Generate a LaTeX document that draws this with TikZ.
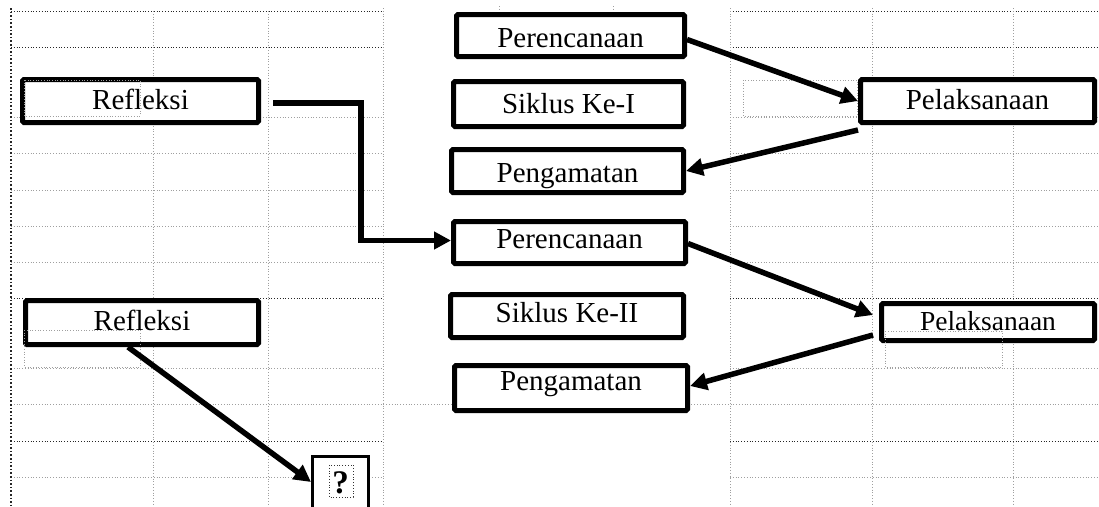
\documentclass[tikz,border=0pt]{standalone}
\usepackage{fontspec}
\setmainfont{Liberation Serif}
\usetikzlibrary{arrows.meta}
\begin{document}
\begin{tikzpicture}[x=1pt,y=-1pt,
  gridl/.style={gray!75, dotted, line width=0.8pt},
  gridd/.style={black!85, dotted, line width=0.8pt},
  tbox/.style={gray!75, dotted, line width=0.7pt},
  box/.style={draw, line width=5pt, rounded corners=1.5pt, inner sep=0pt, fill=white,
     font=\fontsize{29}{31}\selectfont, text depth=0pt},
  qbox/.style={draw, line width=3pt, inner sep=0pt, fill=white,
     font=\bfseries\fontsize{33}{35}\selectfont, text depth=0pt, text height=16pt},
  arr/.style={line width=5.5pt, line join=miter, -{Triangle[length=17pt,width=17pt]}}]
\clip (0,0) rectangle (1099,506);
\fill[white] (0,0) rectangle (1099,506);
% ---- left grid ----
\foreach \y in {117,153,190,226,262,368,477} \draw[gridl] (11,\y) -- (383,\y);
\foreach \y in {47,298,441} \draw[gridd] (11,\y) -- (383,\y);
\draw[gridd] (11,11) -- (383,11);
\draw[gridl] (11,404) -- (1099,404);
\foreach \x in {153,268} \draw[gridl] (\x,11) -- (\x,506);
\draw[gridl] (383,8) -- (383,506);
\draw[black!85, dotted, line width=1.6pt] (11,8) -- (11,506);
% ---- right grid ----
\foreach \y in {117,153,190,226,262,368,477} \draw[gridl] (730,\y) -- (1099,\y);
\foreach \y in {11,47,298,441} \draw[gridd] (730,\y) -- (1099,\y);
\foreach \x in {730,872,1013} \draw[gridl] (\x,8) -- (\x,506);
\foreach \x in {499,613} \draw[gridl] (\x,6) -- (\x,11);
% ---- boxes ----
\node[box, minimum width=236pt, minimum height=43pt, text height=16pt] (r1) at (140.5,101) {Refleksi};
\node[box, minimum width=228pt, minimum height=42pt, text height=23pt] (p1) at (570.5,35.5) {Perencanaan};
\node[box, minimum width=230pt, minimum height=45pt, text height=18pt] (s1) at (568.5,104) {Siklus Ke-I};
\node[box, minimum width=232pt, minimum height=43pt, text height=22pt] (g1) at (567.5,171) {Pengamatan};
\node[box, minimum width=232pt, minimum height=42pt, text height=11pt] (p2) at (569.5,242.5) {Perencanaan};
\node[box, minimum width=233pt, minimum height=43pt, text height=12pt] (s2) at (567,316) {Siklus Ke-II};
\node[box, minimum width=233pt, minimum height=45pt, text height=4pt] (g2) at (571,388) {Pengamatan};
\node[box, minimum width=234pt, minimum height=43pt, text height=16pt] (l1) at (977.5,101) {Pelaksanaan};
\node[box, minimum width=213pt, minimum height=37pt, text height=16pt, font=\fontsize{27.5}{29}\selectfont] (l2) at (988,322) {Pelaksanaan};
\node[box, minimum width=233pt, minimum height=44pt, text height=15pt] (r2) at (142,322.5) {Refleksi};
\node[qbox, minimum width=56pt, minimum height=57pt] (q) at (340.5,485) {?};
% ---- faint text-box outlines ----
\draw[tbox] (24,80) rectangle (140,116);
\draw[tbox] (743,80) rectangle (857,116);
\draw[tbox] (885,331) rectangle (1002,367);
\draw[tbox] (24,330) rectangle (140,367);
\draw[black!80, dotted, line width=0.8pt] (329,465) rectangle (353,497);
% ---- connectors ----
\coordinate (k1) at (361,103);
\draw[arr] ([xshift=12pt,yshift=-2pt]r1.east) -- (k1) |- ([yshift=2pt]p2.west);
\draw[arr] ([yshift=-4pt]p1.east) -- (l1.west);
\draw[arr] ([yshift=-5pt]l1.south west) -- (g1.east);
\draw[arr] ([yshift=-1pt]p2.east) -- ([xshift=-6pt,yshift=7pt]l2.west);
\draw[arr] ([xshift=-6pt,yshift=-13pt]l2.west) -- ([yshift=2pt]g2.east);
\draw[arr] ([xshift=-14pt]r2.south) -- ([yshift=3pt]q.west);
\end{tikzpicture}
\end{document}
